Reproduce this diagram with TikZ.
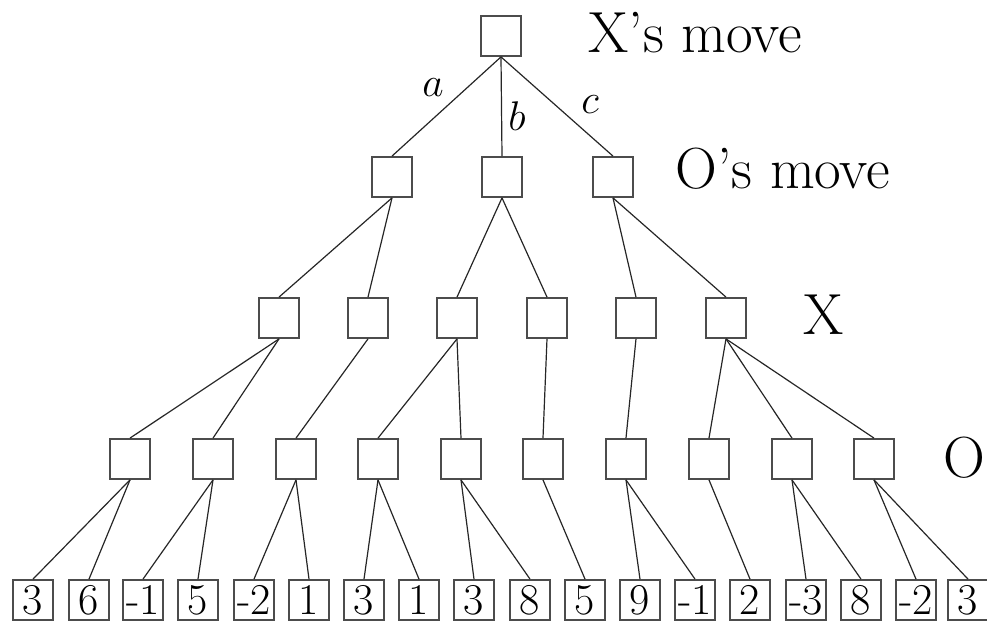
\documentclass[tikz,border=0pt]{standalone}
\begin{document}
\begin{tikzpicture}[x=0.5pt,y=-0.5pt,
    box/.style={draw=black!70,line width=0.9pt,minimum size=20pt,inner sep=0pt},
    leaf/.style={box,font=\fontsize{22}{24}\selectfont},
    lbl/.style={inner sep=0pt,font=\fontsize{29}{32}\selectfont},
    mv/.style={inner sep=0pt,font=\fontsize{22.5}{24}\selectfont}]
  \useasboundingbox (0,0) rectangle (987,622);
  \draw
    (501,36) node[box] (r){}
    (392,177) node[box] (a){}
    (502,177) node[box] (b){}
    (613,177) node[box] (c){}
    (279,318) node[box] (a1){}
    (368,318) node[box] (a2){}
    (457,318) node[box] (b1){}
    (547,318) node[box] (b2){}
    (636,318) node[box] (c1){}
    (726,318) node[box] (c2){}
    (130,459) node[box] (o1){}
    (213,459) node[box] (o2){}
    (296,459) node[box] (o3){}
    (378,459) node[box] (o4){}
    (461,459) node[box] (o5){}
    (543,459) node[box] (o6){}
    (626,459) node[box] (o7){}
    (709,459) node[box] (o8){}
    (792,459) node[box] (o9){}
    (874,459) node[box] (o10){};
  \draw
    (33,600) node[leaf] (v1){3}
    (89,600) node[leaf] (v2){6}
    (143,600) node[leaf] (v3){-1}
    (198,600) node[leaf] (v4){5}
    (254,600) node[leaf] (v5){-2}
    (309,600) node[leaf] (v6){1}
    (364,600) node[leaf] (v7){3}
    (419,600) node[leaf] (v8){1}
    (474,600) node[leaf] (v9){3}
    (530,600) node[leaf] (v10){8}
    (585,600) node[leaf] (v11){5}
    (640,600) node[leaf] (v12){9}
    (695,600) node[leaf] (v13){-1}
    (750,600) node[leaf] (v14){2}
    (806,600) node[leaf] (v15){-3}
    (861,600) node[leaf] (v16){8}
    (916,600) node[leaf] (v17){-2}
    (968,600) node[leaf] (v18){3};
  \node[lbl,anchor=base west] (xmove) at (588,52) {X's move};
  \node[lbl,anchor=base west] (omove) at (675,188) {O's move};
  \node[lbl,anchor=base] (xrow) at (824,334) {X};
  \node[lbl,anchor=base] (orow) at (964,477) {O};
  \node[mv] (ma) at (433,88) {$a$};
  \node[mv] (mb) at (517,116) {$b$};
  \node[mv] (mc) at (590,105) {$c$};
  \begin{scope}[-,line width=0.6pt,black!85]
    \draw (r.south) to (a.north);
    \draw (r.south) to (b.north);
    \draw (r.south) to (c.north);
    \draw (a.south) to (a1.north);
    \draw (a.south) to (a2.north);
    \draw (b.south) to (b1.north);
    \draw (b.south) to (b2.north);
    \draw (c.south) to (c1.north);
    \draw (c.south) to (c2.north);
    \draw (a1.south) to (o1.north);
    \draw (a1.south) to (o2.north);
    \draw (a2.south) to (o3.north);
    \draw (b1.south) to (o4.north);
    \draw (b1.south) to (o5.north);
    \draw (b2.south) to (o6.north);
    \draw (c1.south) to (o7.north);
    \draw (c2.south) to (o8.north);
    \draw (c2.south) to (o9.north);
    \draw (c2.south) to (o10.north);
    \draw (o1.south) to (v1.north);
    \draw (o1.south) to (v2.north);
    \draw (o2.south) to (v3.north);
    \draw (o2.south) to (v4.north);
    \draw (o3.south) to (v5.north);
    \draw (o3.south) to (v6.north);
    \draw (o4.south) to (v7.north);
    \draw (o4.south) to (v8.north);
    \draw (o5.south) to (v9.north);
    \draw (o5.south) to (v10.north);
    \draw (o6.south) to (v11.north);
    \draw (o7.south) to (v12.north);
    \draw (o7.south) to (v13.north);
    \draw (o8.south) to (v14.north);
    \draw (o9.south) to (v15.north);
    \draw (o9.south) to (v16.north);
    \draw (o10.south) to (v17.north);
    \draw (o10.south) to (v18.north);
  \end{scope}
\end{tikzpicture}
\end{document}
